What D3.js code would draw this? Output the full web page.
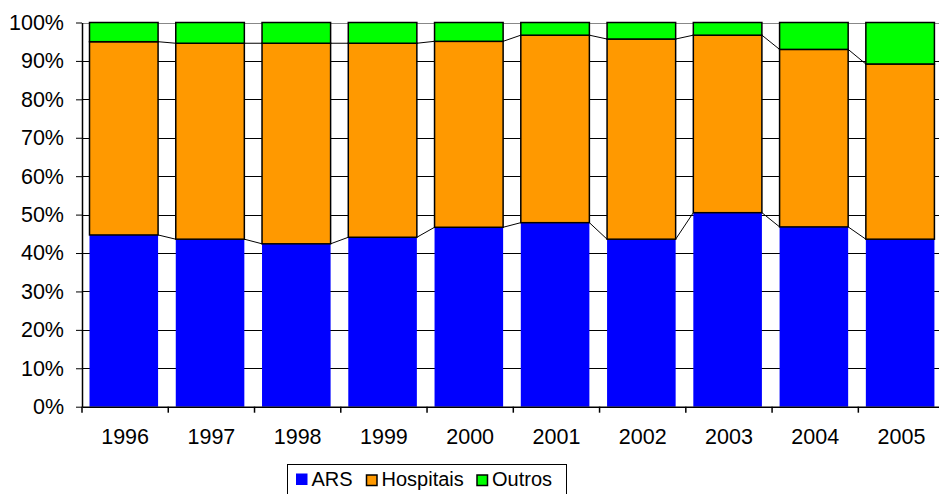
<!DOCTYPE html>
<html>
<head>
<meta charset="utf-8">
<script src="https://cdn.jsdelivr.net/npm/d3@7"></script>
<style>
  html, body { margin: 0; padding: 0; background: #fff; }
  svg { display: block; font-family: "Liberation Sans", Arial, sans-serif; }
</style>
</head>
<body>
<svg id="chart" width="939" height="494"></svg>
<script>
// Share of spending by entity, per year (percent)
const years = ["1996", "1997", "1998", "1999", "2000", "2001", "2002", "2003", "2004", "2005"];
const ars = [44.7, 43.6, 42.4, 44.1, 46.7, 47.9, 43.6, 50.5, 46.8, 43.6];
const hospitais = [50.3, 51.0, 52.2, 50.5, 48.4, 48.8, 52.1, 46.2, 46.2, 45.6];
const outros = [5.0, 5.4, 5.4, 5.4, 4.9, 3.3, 4.3, 3.3, 7.0, 10.8];
const seriesNames = ["ARS", "Hospitais", "Outros"];
const seriesColors = ["#0000ff", "#ff9900", "#00ff00"];
const yTicks = [0, 10, 20, 30, 40, 50, 60, 70, 80, 90, 100];

const svg = d3.select("#chart");
const W = 939;
// The category axis runs slightly past the right edge of the canvas
const plotLeft = 82, plotRight = 944.6, plotTop = 22.5, plotBottom = 406.7;

const table = years.map((yr, i) => ({ year: yr, ARS: ars[i], Hospitais: hospitais[i], Outros: outros[i] }));
const stacked = d3.stack().keys(seriesNames)(table);

// One slot per year; each bar sits inside its slot
const slot = d3.scaleBand().domain(years).range([plotLeft, plotRight]).padding(0);
const barOffset = slot.step() * 0.087;
const barWidth = slot.step() * 0.795;
const bx = d => slot(d) + barOffset;
const y = d3.scaleLinear().domain([0, 100]).range([plotBottom, plotTop]);

// Horizontal gridlines
svg.append("g").selectAll("line").data(yTicks.filter(t => t > 0)).join("line")
  .attr("x1", plotLeft).attr("x2", W)
  .attr("y1", d => Math.round(y(d)) + 0.5).attr("y2", d => Math.round(y(d)) + 0.5)
  .attr("stroke", d => d === 100 ? "#888" : "#000")
  .attr("stroke-width", 1);

// Stacked bars
const layers = svg.append("g").selectAll("g").data(stacked).join("g")
  .attr("fill", (d, i) => seriesColors[i]);
layers.each(function (layer, li) {
  d3.select(this).selectAll("rect").data(layer).join("rect")
    .attr("x", d => bx(d.data.year))
    .attr("width", barWidth)
    .attr("y", d => y(d[1]))
    .attr("height", d => y(d[0]) - y(d[1]))
    .attr("stroke", li === 0 ? "none" : "#000")
    .attr("stroke-width", 1.5);
});

// Series lines joining the tops of adjacent segments
stacked.slice(0, 2).forEach(layer => {
  const segs = [];
  for (let i = 0; i < layer.length - 1; i++) {
    segs.push({
      x1: bx(years[i]) + barWidth, y1: y(layer[i][1]),
      x2: bx(years[i + 1]), y2: y(layer[i + 1][1])
    });
  }
  svg.append("g").selectAll("line").data(segs).join("line")
    .attr("x1", d => d.x1).attr("y1", d => d.y1)
    .attr("x2", d => d.x2).attr("y2", d => d.y2)
    .attr("stroke", "#000").attr("stroke-width", 1);
});

// Y axis
const yAxis = svg.append("g").attr("transform", `translate(${plotLeft},0)`)
  .call(d3.axisLeft(y).tickValues(yTicks).tickFormat(d => d + "%").tickSize(6).tickSizeOuter(0));
yAxis.select(".domain").attr("stroke", "#000").attr("stroke-width", 1.5);
yAxis.selectAll(".tick line").attr("stroke", "#000");
yAxis.selectAll(".tick text").attr("x", -18).attr("font-size", "21.5px")
  .attr("font-family", "Liberation Sans, Arial, sans-serif").attr("fill", "#000");

// X axis
const xAxis = svg.append("g").attr("transform", `translate(0,${plotBottom})`)
  .call(d3.axisBottom(slot).tickSize(0).tickSizeOuter(0));
xAxis.select(".domain").attr("stroke", "#000").attr("stroke-width", 1.5);
xAxis.selectAll(".tick text").attr("y", 22).attr("font-size", "21.5px")
  .attr("font-family", "Liberation Sans, Arial, sans-serif").attr("fill", "#000");

// Category boundary tick marks
svg.append("g").selectAll("line").data(years).join("line")
  .attr("x1", d => slot(d)).attr("x2", d => slot(d))
  .attr("y1", plotBottom).attr("y2", plotBottom + 6)
  .attr("stroke", "#000").attr("stroke-width", 1.5);

// Legend
const legend = svg.append("g");
legend.append("rect").attr("x", 287.5).attr("y", 464.5).attr("width", 279).attr("height", 40)
  .attr("fill", "#fff").attr("stroke", "#000").attr("stroke-width", 1);
const legendX = [296, 366.5, 477];
seriesNames.forEach((name, i) => {
  const s = i === 0 ? 11.5 : 10.5;
  legend.append("rect").attr("x", legendX[i]).attr("y", i === 0 ? 473.5 : 475)
    .attr("width", s).attr("height", s)
    .attr("fill", seriesColors[i])
    .attr("stroke", i === 0 ? "none" : "#000").attr("stroke-width", 1.5);
  legend.append("text").attr("x", legendX[i] + (i === 0 ? 15.5 : 15)).attr("y", 486)
    .attr("font-size", "20px").attr("fill", "#000").text(name);
});
</script>
</body>
</html>
